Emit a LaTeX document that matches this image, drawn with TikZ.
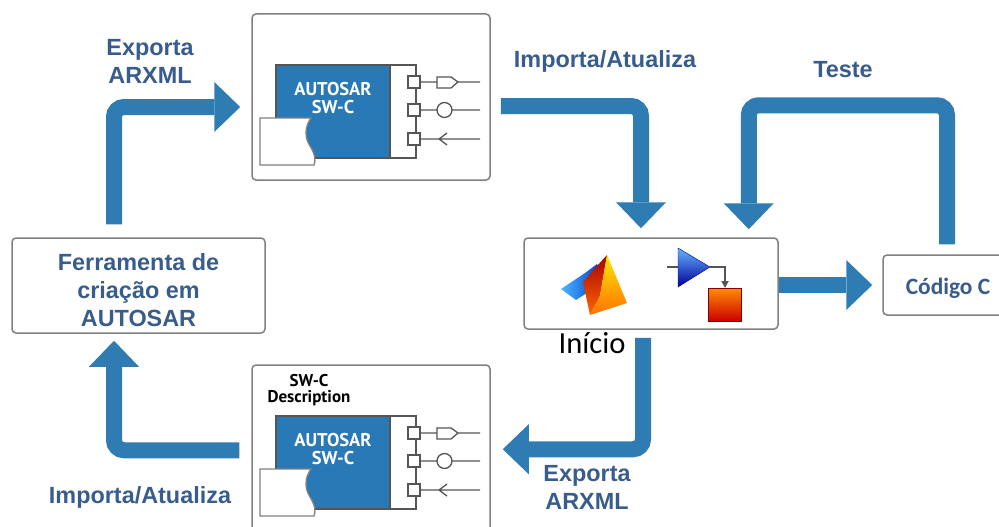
\documentclass[tikz,border=0pt]{standalone}
\usepackage{fontspec}
\setmainfont{Liberation Sans}
\newfontfamily\calibri{Carlito}
\newfontfamily\ptsans{PT Sans}
\usetikzlibrary{arrows.meta, calc, positioning}

\definecolor{flowblue}{RGB}{46,124,178}
\definecolor{swcblue}{RGB}{41,121,182}
\definecolor{labelblue}{RGB}{56,92,140}
\definecolor{boxgray}{RGB}{128,128,128}
\definecolor{wiregray}{RGB}{85,85,85}

\begin{document}
\begin{tikzpicture}[x=1pt, y=-1pt,
    box/.style={draw=boxgray, line width=1.5pt, rounded corners=4pt, fill=white, inner sep=0pt, align=center},
    flow/.style={draw=flowblue, line width=16pt, rounded corners=10pt, -{Triangle[width=50pt, length=26pt, line width=0pt]}},
    lbl/.style={text=labelblue, font=\fontsize{23.4}{28}\selectfont\bfseries, align=center, inner sep=0pt},
    wire/.style={draw=wiregray, line width=1.3pt},
    swctext/.style={text=white, font=\ptsans\bfseries\fontsize{18.5}{18}\selectfont, align=center, inner sep=0pt}
  ]
  \clip (0,0) rectangle (999,527);

  % Boxes
  \node[box, minimum width=253pt, minimum height=95pt,
    label={[lbl, yshift=-5pt]center:{Ferramenta de\\criação em\\AUTOSAR}}] (tool) at (138.5,285.5) {};
  \node[box, minimum width=238pt, minimum height=166pt] (swc_top) at (371,97) {};
  \node[box, minimum width=238pt, minimum height=180pt] (swc_bot) at (371,455) {};
  \node[box, minimum width=254pt, minimum height=91pt] (model) at (651,283.5) {};
  \node[box, minimum width=130pt, minimum height=60pt,
    label={[lbl, font=\calibri\bfseries\fontsize{23.4}{28}\selectfont, yshift=-3pt]center:Código C}] (code) at (948,285) {};

  % Software component, drawn in both boxes
  \foreach \dy in {0,351} {
    \begin{scope}[shift={(0,\dy)}]
      \fill[swcblue] (276,65) rectangle (390,158);
      \draw[wire] (276,65) rectangle (416,158);
      \draw[wire] (390,65) -- (390,158);
      \node[swctext] at (333,98) {AUTOSAR\\SW-C};
      % document sheet
      \draw[draw=boxgray, line width=1.3pt, fill=white] (260,118) -- (311,118)
        .. controls (304,128) and (305,138) .. (310,146)
        .. controls (315,154) and (316,160) .. (314,165) -- (260,165) -- cycle;
      % ports
      \foreach \py in {82,110,139}
        \draw[wire, fill=white] (408,\py-6) rectangle (420,\py+6);
      \draw[wire] (420,82) -- (437,82) (437,77) -- (451,77) -- (458,82) -- (451,88) -- (437,88) -- cycle (458,82) -- (480,82);
      \draw[wire] (420,110) -- (437,110) (444.5,110) circle[radius=7.5pt] (452,110) -- (480,110);
      \draw[wire] (420,139) -- (480,139) (447,133) -- (439,139) -- (447,145);
    \end{scope}
  }
  \node[font=\ptsans\bfseries\fontsize{17}{16}\selectfont, align=center, inner sep=0pt] (desc) at (309,390) {SW-C\\Description};

  % MATLAB logo
  \shade[left color=cyan!60!blue!70, right color=blue!70!cyan!80!black] (561,289) -- (585,273) -- (597,264) -- (601,271) -- (590,291) -- (576,300) -- cycle;
  \shade[top color=red!65!black, bottom color=orange!80!red] (607,255) -- (597,266) -- (583,282) -- (590,315) -- (600,296) -- cycle;
  \shade[top color=yellow!80!orange, bottom color=orange!90!red] (607,255) -- (627,303) -- (590,315) -- (600,296) -- cycle;

  % Simulink blocks
  \shade[top color=cyan!50!blue!60, bottom color=blue!60!black, draw=blue!50!black] (678,248) -- (710,267) -- (678,287) -- cycle;
  \draw[wiregray, line width=2pt] (667,267) -- (678,267);
  \draw[wiregray, line width=2pt, -{Triangle[width=7pt, length=7pt]}] (710,267) -- (725,267) -- (725,288);
  \shade[top color=orange!90!yellow, bottom color=red!80!black, draw=red!50!black] (708,288) rectangle (741,321);

  % Flow arrows
  \draw[flow] ($(tool.north)+(-24.5,-13)$) |- ($(swc_top.west)+(-11,10)$);
  \draw[flow] ($(swc_top.east)+(10,9)$) -| ($(model.north)+(-10,-9)$);
  \draw[flow] ($(code.north)+(-1,-10)$) |- ($(model.north east)+(-30,-132)$) -- ($(model.north east)+(-30,-8)$);
  \draw[flow] (model.east |- code.west) -- ($(code.west)+(-10,0)$);
  \draw[flow] ($(model.south)+(-8,8)$) |- ($(swc_bot.north east)+(12,85)$);
  \draw[flow] ($(swc_bot.north west)+(-12,86)$) -| ($(tool.south)+(-24.5,7)$);

  % Labels
  \node[lbl] (exp_top) at (150,61) {Exporta\\ARXML};
  \node[lbl] (imp_top) at (605,61) {Importa/Atualiza};
  \node[lbl] (test) at (843,70) {Teste};
  \node[lbl] (exp_bot) at (587,487) {Exporta\\ARXML};
  \node[lbl] (imp_bot) at (140,497) {Importa/Atualiza};
  \node[font=\calibri\fontsize{30.6}{34}\selectfont, inner sep=0pt] (start) at (592,343) {Início};

\end{tikzpicture}
\end{document}
